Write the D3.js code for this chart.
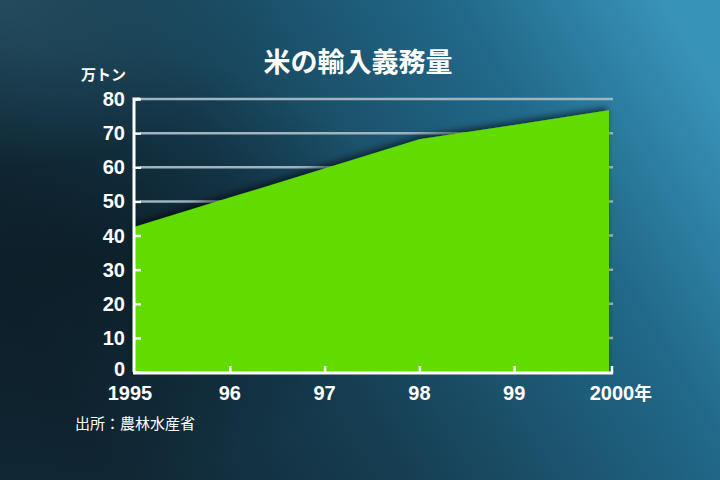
<!DOCTYPE html>
<html><head><meta charset="utf-8">
<script src="https://cdn.jsdelivr.net/npm/d3@7"></script>
<style>body{margin:0;padding:0;overflow:hidden}svg{display:block}</style>
</head><body>
<svg id="c" width="720" height="480"></svg>
<script>
const years = [1995, 1996, 1997, 1998, 1999, 2000];
const xLabels = ["1995", "96", "97", "98", "99", "2000"];
const values = [42.6, 51.1, 59.6, 68.2, 72.4, 76.7];
const yTicks = [0, 10, 20, 30, 40, 50, 60, 70, 80];

const svg = d3.select("#c");
const W = 720, H = 480;
const defs = svg.append("defs");
const lg = defs.append("linearGradient").attr("id","bg").attr("x1","0").attr("y1","0.6").attr("x2","1").attr("y2","0.2");
lg.append("stop").attr("offset","0").attr("stop-color","#102633");
lg.append("stop").attr("offset","0.35").attr("stop-color","#163e52");
lg.append("stop").attr("offset","0.75").attr("stop-color","#21698a");
lg.append("stop").attr("offset","1").attr("stop-color","#3893b8");
svg.append("rect").attr("width",W).attr("height",H).attr("fill","url(#bg)");
const rg = defs.append("radialGradient").attr("id","dk").attr("cx","0.12").attr("cy","0.55").attr("r","0.45");
rg.append("stop").attr("offset","0").attr("stop-color","#0a1820").attr("stop-opacity",0.7);
rg.append("stop").attr("offset","1").attr("stop-color","#0a1820").attr("stop-opacity",0);
svg.append("rect").attr("width",W).attr("height",H).attr("fill","url(#dk)");
const rg2 = defs.append("radialGradient").attr("id","tl").attr("cx","0").attr("cy","0").attr("r","0.35");
rg2.append("stop").attr("offset","0").attr("stop-color","#2a5669").attr("stop-opacity",0.7);
rg2.append("stop").attr("offset","1").attr("stop-color","#2a5669").attr("stop-opacity",0);
svg.append("rect").attr("width",W).attr("height",H).attr("fill","url(#tl)");

const f = defs.append("filter").attr("id","sh").attr("x","-10%").attr("y","-20%").attr("width","120%").attr("height","140%");
f.append("feDropShadow").attr("dx",-2).attr("dy",-3).attr("stdDeviation",3).attr("flood-color","#000").attr("flood-opacity",0.55);

const x = d3.scaleLinear().domain([1995, 2000]).range([135, 609]);
const y = d3.scaleLinear().domain([0, 80]).range([372, 99]);

// gridlines
svg.append("g").selectAll("line").data(yTicks.filter(d=>d>0)).join("line")
  .attr("x1",140).attr("x2",613).attr("y1",d=>y(d)).attr("y2",d=>y(d))
  .attr("stroke","#9fb4bf").attr("stroke-width",2.5);

// area
const area = d3.area().x((d,i)=>x(years[i])).y0(y(0)).y1(d=>y(d));
svg.append("path").datum(values).attr("d",area).attr("fill","#62dc00").attr("filter","url(#sh)");

// y axis
const ya = svg.append("g").attr("transform",`translate(${x(1995)-1},0)`)
  .call(d3.axisRight(y).tickValues(yTicks).tickSize(7).tickFormat(""));
ya.select(".domain").attr("stroke","#fff").attr("stroke-width",3).attr("d",`M6,${y(80)}H0V${y(0)}`);
ya.selectAll(".tick line").attr("stroke","#fff").attr("stroke-width",2.5);
svg.append("g").selectAll("text").data(yTicks).join("text")
  .attr("x",125).attr("y",d=>y(d)+(d===0?4:7)).attr("text-anchor","end")
  .attr("fill","#fff").attr("font-family","Liberation Sans, Arial, sans-serif").attr("font-weight","bold").attr("font-size",20)
  .text(d=>d);

// x axis
const xa = svg.append("g").attr("transform",`translate(0,${y(0)+1})`)
  .call(d3.axisTop(x).tickValues(years).tickSize(7).tickFormat(""));
xa.select(".domain").attr("stroke","#fff").attr("stroke-width",3).attr("d",`M${x(1995)-2},0H${x(2000)+4}`);
xa.selectAll(".tick line").attr("stroke","#fff").attr("stroke-width",2.5);
xa.selectAll(".tick").filter(d=>d===1995).remove();
xa.selectAll(".tick").filter(d=>d===2000).attr("transform",`translate(${x(2000)+3},0)`);

svg.append("g").selectAll("text").data(years).join("text")
  .attr("x",(d,i)=> i===0 ? x(d)-5 : x(d)+ (i===5?3:0)).attr("y",400).attr("text-anchor","middle")
  .attr("fill","#fff").attr("font-family","Liberation Sans, Arial, sans-serif").attr("font-weight","bold").attr("font-size",20)
  .text((d,i)=>xLabels[i]);
svg.append("text").attr("x",x(2000)+25).attr("y",400).attr("fill","#fff")
  .attr("font-family","Noto Sans CJK JP").attr("font-weight","bold").attr("font-size",18).text("年");

// unit
svg.append("text").attr("x",81).attr("y",80).attr("fill","#fff")
  .attr("font-family","Noto Sans CJK JP").attr("font-weight","bold").attr("font-size",15).text("万トン");

// title
svg.append("text").attr("x",358).attr("y",72).attr("text-anchor","middle").attr("fill","#fff")
  .attr("font-family","Noto Sans CJK JP").attr("font-weight","bold").attr("font-size",27).text("米の輸入義務量");

// source
svg.append("text").attr("x",75).attr("y",429).attr("fill","#fff")
  .attr("font-family","Noto Sans CJK JP").attr("font-size",15).text("出所：農林水産省");
</script>
</body></html>
